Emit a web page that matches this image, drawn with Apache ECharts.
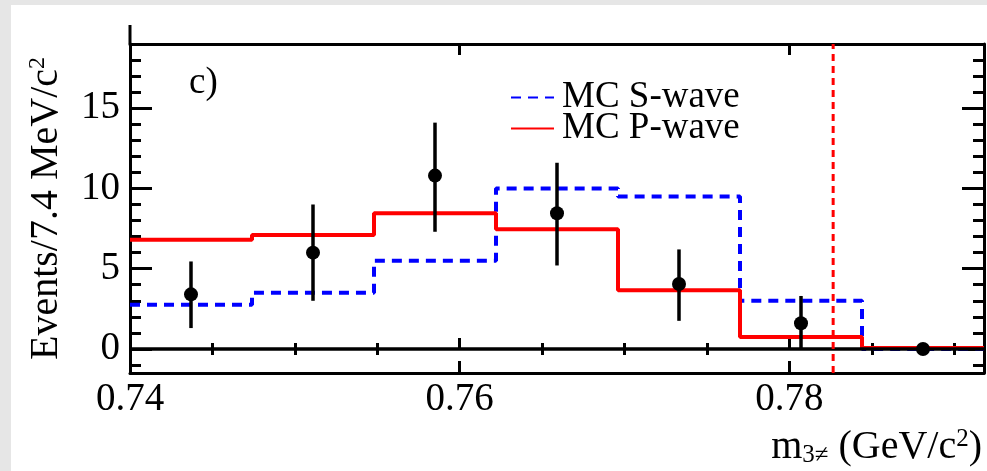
<!DOCTYPE html>
<html>
<head>
<meta charset="utf-8">
<script src="https://cdn.jsdelivr.net/npm/echarts@6/dist/echarts.min.js"></script>
<style>
html,body{margin:0;padding:0;background:#e6e6e6;}
#card{position:absolute;left:11px;top:5px;width:976px;height:466px;background:#fff;}
#chart{position:absolute;left:0;top:0;width:987px;height:471px;}
</style>
</head>
<body>
<div id="card"></div>
<div id="chart"></div>
<script>
// ---- data ----
const binEdges = [0.74, 0.7474, 0.7548, 0.7622, 0.7696, 0.777, 0.7844, 0.7918];
const binCenters = [0.7437, 0.7511, 0.7585, 0.7659, 0.7733, 0.7807, 0.7881];
const dataValues = [3.4, 6.0, 10.8, 8.45, 4.05, 1.6, 0.0];
const dataLow = [1.3, 3.0, 7.3, 5.2, 1.75, 0.0, 0.0];
const dataHigh = [5.45, 9.0, 14.1, 11.6, 6.2, 3.3, 0.0];
const sWave = [2.75, 3.5, 5.5, 10.0, 9.5, 3.0, 0.0];
const pWave = [6.8, 7.1, 8.45, 7.45, 3.65, 0.75, 0.05];
const omegaMass = 0.78265;
const xMajorTicks = [0.74, 0.76, 0.78];
const xMinorTicks = [0.745, 0.75, 0.755, 0.765, 0.77, 0.775, 0.785, 0.79];
const yMajorTicks = [0, 5, 10, 15];
const yMinorTicks = [-1, 1, 2, 3, 4, 6, 7, 8, 9, 11, 12, 13, 14, 16, 17, 18];
const legendNames = ['MC S-wave', 'MC P-wave'];

function histData(vals) {
  const d = vals.map((v, i) => [binEdges[i], v]);
  d.push([binEdges[binEdges.length - 1], vals[vals.length - 1]]);
  return d;
}

const FONT = "'Liberation Serif', 'Times New Roman', Times, serif";
const X0 = binEdges[0], X1 = binEdges[binEdges.length - 1];
const Y0 = -1.5, Y1 = 19;

function xAx(opts) {
  return Object.assign({
    type: 'value', min: X0, max: X1, splitLine: {show: false},
    axisLine: {show: false}, axisLabel: {show: false}, axisTick: {show: false}
  }, opts);
}
function yAx(opts) {
  return Object.assign({
    type: 'value', min: Y0, max: Y1, splitLine: {show: false},
    axisLine: {show: false}, axisLabel: {show: false}, axisTick: {show: false}
  }, opts);
}
const axLine = {show: true, onZero: false, lineStyle: {color: '#000', width: 3}};

const chart = echarts.init(document.getElementById('chart'), null, {renderer: 'canvas'});
chart.setOption({
  animation: false,
  backgroundColor: 'transparent',
  textStyle: {fontFamily: FONT},
  grid: {left: 130, right: 3, top: 44, bottom: 98},
  xAxis: [
    xAx({position: 'bottom', axisLine: axLine,
      axisTick: {show: true, inside: true, length: 12, customValues: xMajorTicks, lineStyle: {color: '#000', width: 3}},
      axisLabel: {show: true, customValues: xMajorTicks, margin: 7, fontFamily: FONT, fontSize: 39, color: '#000',
        formatter: v => v.toFixed(2)}}),
    xAx({position: 'bottom', axisTick: {show: true, inside: true, length: 6, customValues: xMinorTicks, lineStyle: {color: '#000', width: 3}}}),
    xAx({position: 'top', axisLine: axLine,
      axisTick: {show: true, inside: true, length: 11, customValues: xMajorTicks, lineStyle: {color: '#000', width: 3}}}),
    xAx({position: 'top', axisTick: {show: true, inside: false, length: 11, customValues: xMajorTicks, lineStyle: {color: '#000', width: 3}}}),
    xAx({position: 'top', axisTick: {show: true, inside: true, length: 6, customValues: xMinorTicks, lineStyle: {color: '#000', width: 3}}}),
    xAx({position: 'top', axisTick: {show: true, inside: false, length: 6, customValues: xMinorTicks, lineStyle: {color: '#000', width: 3}}})
  ],
  yAxis: [
    yAx({position: 'left', axisLine: axLine,
      axisTick: {show: true, inside: true, length: 22, customValues: yMajorTicks, lineStyle: {color: '#000', width: 3}},
      axisLabel: {show: true, customValues: yMajorTicks, margin: 10, fontFamily: FONT, fontSize: 39, color: '#000'},
      name: 'Events/7.4 MeV/c{sup|2}', nameLocation: 'middle', nameRotate: 90, nameGap: 64,
      nameTextStyle: {fontFamily: FONT, fontSize: 40, color: '#000',
        rich: {sup: {fontFamily: FONT, fontSize: 24, color: '#000', verticalAlign: 'top', padding: [0, 0, 14, 0]}}}}),
    yAx({position: 'left', axisTick: {show: true, inside: true, length: 11, customValues: yMinorTicks, lineStyle: {color: '#000', width: 3}}}),
    yAx({position: 'right', axisLine: axLine,
      axisTick: {show: true, inside: true, length: 22, customValues: yMajorTicks, lineStyle: {color: '#000', width: 3}}}),
    yAx({position: 'right', axisTick: {show: true, inside: true, length: 11, customValues: yMinorTicks, lineStyle: {color: '#000', width: 3}}})
  ],
  legend: {
    orient: 'vertical', left: 505, top: 74, itemGap: -6, itemWidth: 43, itemHeight: 14,
    data: legendNames, itemStyle: {opacity: 0, borderWidth: 0},
    textStyle: {fontFamily: FONT, fontSize: 37, color: '#000', lineHeight: 31, padding: [0, 0, 0, 3]}
  },
  graphic: [
    {type: 'line', silent: true, z: 10, shape: {x1: 130, y1: 25, x2: 130, y2: 44}, style: {stroke: '#000', lineWidth: 3}},
    {type: 'text', silent: true, left: 189, top: 65, style: {text: 'c)', fontFamily: FONT, fontSize: 37, fill: '#000'}},
    {type: 'text', silent: true, right: 5, top: 427,
      style: {text: 'm{sub|3≠} (GeV/c{sup|2})', fontFamily: FONT, fontSize: 40, fill: '#000',
        rich: {
          sub: {fontFamily: FONT, fontSize: 25, fill: '#000', verticalAlign: 'bottom', padding: [16, 0, 0, 0]},
          sup: {fontFamily: FONT, fontSize: 25, fill: '#000', verticalAlign: 'top', padding: [0, 0, 14, 0]}
        }}}
  ],
  series: [
    {
      name: 'zero', type: 'line', data: [], xAxisIndex: 0, yAxisIndex: 0, z: 1,
      markLine: {silent: true, symbol: 'none', label: {show: false}, animation: false,
        lineStyle: {color: '#000', width: 3.5, type: 'solid'}, data: [{yAxis: 0}]}
    },
    {
      name: legendNames[0], type: 'line', step: 'end', data: histData(sWave), symbol: 'none', z: 3,
      lineStyle: {color: '#0000ff', width: 4, type: [10, 7]}, itemStyle: {color: '#0000ff'}
    },
    {
      name: legendNames[1], type: 'line', step: 'end', data: histData(pWave), symbol: 'none', z: 4,
      lineStyle: {color: '#ff0000', width: 4, type: 'solid'}, itemStyle: {color: '#ff0000'}
    },
    {
      name: 'omega', type: 'line', data: [[omegaMass, Y0], [omegaMass, Y1]], symbol: 'none', z: 7,
      lineStyle: {color: '#ff0000', width: 3, type: [7, 5]}
    },
    {
      name: 'err', type: 'custom', z: 5,
      data: binCenters.map((x, i) => [x, dataLow[i], dataHigh[i]]),
      renderItem: function (params, api) {
        const p1 = api.coord([api.value(0), api.value(1)]);
        const p2 = api.coord([api.value(0), api.value(2)]);
        return {type: 'line', shape: {x1: p1[0], y1: p1[1], x2: p2[0], y2: p2[1]},
          style: {stroke: '#000', lineWidth: 3.5}};
      }
    },
    {
      name: 'data', type: 'scatter', z: 6, symbol: 'circle', symbolSize: 14,
      data: binCenters.map((x, i) => [x, dataValues[i]]), itemStyle: {color: '#000', opacity: 1}
    }
  ]
});
</script>
</body>
</html>
